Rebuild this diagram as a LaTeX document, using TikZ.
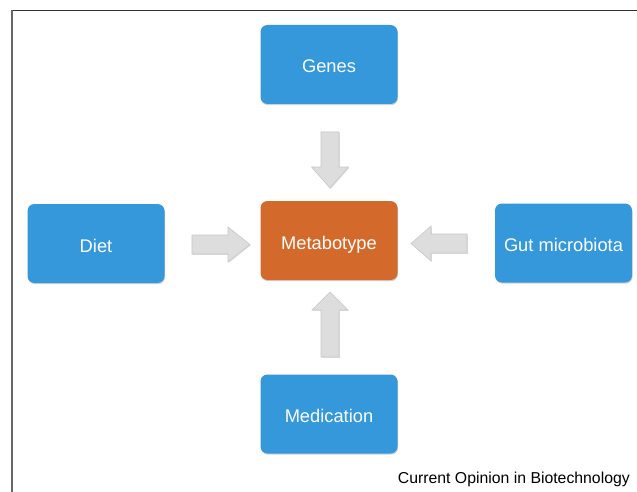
\documentclass[tikz,border=0pt]{standalone}
\usepackage{fontspec}
\setmainfont{Liberation Sans}
\usetikzlibrary{shadows}
\definecolor{boxblue}{RGB}{52,152,219}
\definecolor{boxorange}{RGB}{211,106,44}
\definecolor{arrowfill}{RGB}{221,221,221}
\definecolor{arrowedge}{RGB}{200,200,200}
\tikzset{
  factor/.style={rectangle, rounded corners=7pt, fill=boxblue, text=white,
    minimum width=137pt, minimum height=79pt, inner sep=0pt,
    text height=18pt, text depth=1pt,
    font=\fontsize{18.3}{21}\selectfont,
    drop shadow={shadow xshift=0.6pt, shadow yshift=-1.2pt, opacity=0.35, fill=gray}},
  centre/.style={factor, fill=boxorange},
  blockarr/.style={fill=arrowfill, draw=arrowedge, line width=0.6pt, line join=miter,
    drop shadow={shadow xshift=0.8pt, shadow yshift=-0.8pt, opacity=0.25, fill=gray}},
  frameline/.style={line width=1.3pt, draw=black!80}
}
\begin{document}
\begin{tikzpicture}[x=1pt, y=-1pt]
\useasboundingbox (0,0) rectangle (637,492);
\fill[white] (0,0) rectangle (637,492);
% frame
\coordinate (ftr) at (637,10.5);
\coordinate (ftl) at (12,10.5);
\coordinate (fbl) at (12,492);
\draw[frameline] (ftr) -- (ftl);
\draw[frameline, draw=black!60] (ftl) -- (fbl);
% boxes
\node[factor] (genes) at (329,64.5) {Genes};
\node[factor] (diet) at (96,243.5) {Diet};
\node[centre] (meta) at (329,240.5) {Metabotype};
\node[factor] (gut) at (563.5,243) {Gut microbiota};
\node[factor] (med) at (329,414) {Medication};
% block arrows
% down (Genes -> Metabotype)
\draw[blockarr] (321,132) -- (339,132) -- (339,167) -- (348.5,167) -- (330,188)
  -- (311.5,167) -- (321,167) -- cycle;
% up (Medication -> Metabotype)
\draw[blockarr] (321,357) -- (339,357) -- (339,310) -- (348,310) -- (330,292)
  -- (312,310) -- (321,310) -- cycle;
% right (Diet -> Metabotype)
\draw[blockarr] (192,235) -- (228,235) -- (228,227) -- (250,244.5) -- (228,262)
  -- (228,254) -- (192,254) -- cycle;
% left (Gut microbiota -> Metabotype)
\draw[blockarr] (467,234) -- (431,234) -- (431,226) -- (411,243.5) -- (431,261)
  -- (431,253) -- (467,253) -- cycle;
% caption
\node[anchor=base east, inner sep=0pt, font=\fontsize{15.8}{18}\selectfont] (cap) at (630,483) {Current Opinion in Biotechnology};
\end{tikzpicture}
\end{document}
